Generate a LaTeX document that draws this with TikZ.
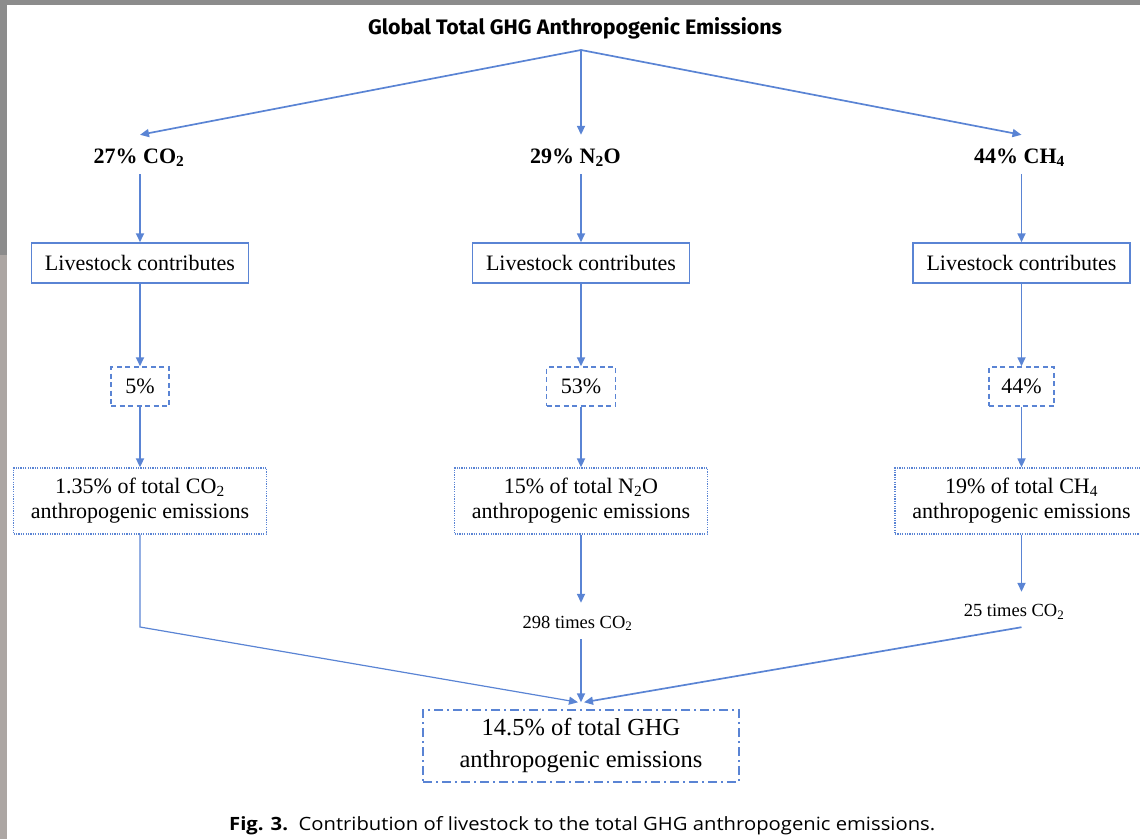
\documentclass[tikz,border=0pt]{standalone}
\usepackage{fontspec}
\setmainfont{Liberation Serif}
\newfontfamily\titlefont{Fira Sans}
\newfontfamily\capfont{Open Sans}
\usetikzlibrary{arrows.meta}
\definecolor{lb}{RGB}{90,132,212}
\definecolor{stripgray}{RGB}{140,140,140}
\definecolor{striplight}{RGB}{172,166,163}
\begin{document}
\begin{tikzpicture}[x=1pt,y=-1pt,
  arr/.style={draw=lb, line width=1.7pt, -{Triangle[length=9pt,width=8pt]}},
  thinarr/.style={draw=lb, line width=1.2pt, -{Triangle[length=9pt,width=8pt]}},
  gaslab/.style={inner sep=0pt, minimum height=39pt, text height=22pt, text depth=5pt,
    font=\fontsize{22}{26}\selectfont\bfseries},
  timeslab/.style={inner sep=0pt, text height=16pt, text depth=2pt,
    font=\fontsize{18.5}{22}\selectfont},
  plainbox/.style={draw=lb, line width=1.5pt, minimum width=217pt, minimum height=40pt,
    inner sep=0pt, font=\fontsize{22}{26}\selectfont},
  pctbox/.style={draw=lb, line width=1.5pt, dash pattern=on 5pt off 3.5pt,
    minimum height=39pt, inner sep=0pt, font=\fontsize{22}{26}\selectfont},
  totbox/.style={draw=lb, line width=1.3pt, dash pattern=on 1.2pt off 1.2pt,
    minimum width=253pt, minimum height=66pt, inner sep=0pt, align=center,
    font=\fontsize{22}{25}\selectfont},
  finalbox/.style={draw=lb, line width=1.5pt, dash pattern=on 9pt off 4pt on 2pt off 4pt,
    minimum width=316pt, minimum height=72pt, inner sep=0pt, align=center,
    font=\fontsize{24.5}{32}\selectfont}]
\useasboundingbox (0,0) rectangle (1140,839);
% screenshot borders
\fill[stripgray] (0,0) rectangle (1140,5);
\fill[stripgray] (0,0) rectangle (7,255);
\fill[striplight] (0,255) rectangle (7,839);

% title
\node[anchor=base, inner sep=0pt] (title) at (575,34)
  {\resizebox{414pt}{17pt}{\titlefont\bfseries Global Total GHG Anthropogenic Emissions}};
\coordinate (apex) at (581,50);

% gas labels
\node[gaslab] (co2) at (139,154.5) {27\% CO\textsubscript{2}};
\node[gaslab] (n2o) at (575.5,154.5) {29\% N\textsubscript{2}O};
\node[gaslab] (ch4) at (1019.5,154.5) {44\% CH\textsubscript{4}};

% livestock boxes
\node[plainbox] (lc1) at (140,263) {Livestock contributes};
\node[plainbox] (lc2) at (581,263) {Livestock contributes};
\node[plainbox] (lc3) at (1021.5,263) {Livestock contributes};

% percentage boxes
\node[pctbox, minimum width=58pt] (p1) at (140,386.5) {5\%};
\node[pctbox, minimum width=69pt] (p2) at (581,386.5) {53\%};
\node[pctbox, minimum width=65pt] (p3) at (1021.5,386.5) {44\%};

% share boxes
\node[totbox] (t1) at (140,501) {1.35\% of total CO\textsubscript{2}\\anthropogenic emissions};
\node[totbox] (t2) at (581,501) {15\% of total N\textsubscript{2}O\\anthropogenic emissions};
\node[totbox] (t3) at (1021.5,501) {19\% of total CH\textsubscript{4}\\anthropogenic emissions};

% times labels
\node[timeslab, minimum height=36pt] (times2) at (577.5,621) {298 times CO\textsubscript{2}};
\node[timeslab, minimum height=35pt] (times3) at (1014,609.5) {25 times CO\textsubscript{2}};

% final box
\node[finalbox] (final) at (581,746) {14.5\% of total GHG\\anthropogenic emissions};

% caption
\node[anchor=base west, inner sep=0pt] (cap) at (229,830)
  {\resizebox{706pt}{14pt}{\capfont\textbf{Fig. 3.}\ \ Contribution of livestock to the total GHG anthropogenic emissions.}};

\coordinate (c1) at (140,627);

% connectors
\draw[arr] (apex) -- (co2.north -| lc1.north);
\draw[arr] (apex) -- (n2o.north -| lc2.north);
\draw[arr] (apex) -- (ch4.north -| lc3.north);

\draw[arr] (co2.south -| lc1.north) -- (lc1.north);
\draw[arr] (n2o.south -| lc2.north) -- (lc2.north);
\draw[arr] (ch4.south -| lc3.north) -- (lc3.north);

\draw[arr] (lc1) -- (p1);
\draw[arr] (lc2) -- (p2);
\draw[arr] (lc3) -- (p3);

\draw[arr] (p1) -- (t1);
\draw[arr] (p2) -- (t2);
\draw[arr] (p3) -- (t3);

\draw[thinarr] (t1.south) -- (c1) -- ([xshift=-3pt,yshift=7pt]final.north);
\draw[arr] (t2.south) -- (t2.south |- times2.north);
\draw[arr] (times2.south -| final.north) -- ([yshift=7pt]final.north);
\draw[arr] (t3.south) -- (t3.south |- times3.north);
\draw[arr] (t3.south |- times3.south) -- ([xshift=3pt,yshift=7pt]final.north);
\end{tikzpicture}
\end{document}
